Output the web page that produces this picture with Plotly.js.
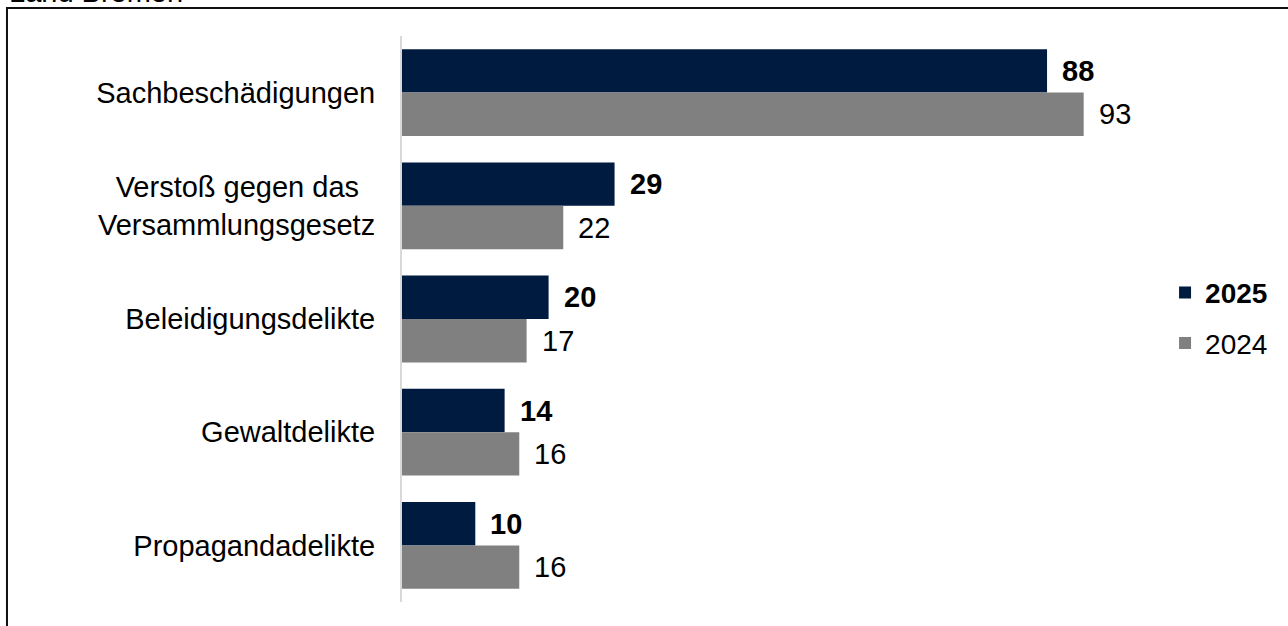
<!DOCTYPE html>
<html>
<head>
<meta charset="utf-8">
<script src="https://cdn.plot.ly/plotly-3.0.1.min.js"></script>
<style>html,body{margin:0;padding:0;background:#fff;}#chart{width:1288px;height:626px;}</style>
</head>
<body>
<div id="chart"></div>
<script>
const categories = ["Sachbeschädigungen", "Verstoß gegen das\u00a0\u00a0<br>Versammlungsgesetz", "Beleidigungsdelikte", "Gewaltdelikte", "Propagandadelikte"];
const values2025 = [88, 29, 20, 14, 10];
const values2024 = [93, 22, 17, 16, 16];
const seriesNames = ["2025", "2024"];
const colors = ["#001B40", "#808080"];
const FONT = "'Liberation Sans', Arial, sans-serif";

const traces = [
  {type: "bar", orientation: "h", name: "<b>" + seriesNames[0] + "</b>", y: categories, x: values2025,
   marker: {color: colors[0]}, legendgroup: "a", hoverinfo: "none"},
  {type: "bar", orientation: "h", name: seriesNames[1], y: categories, x: values2024,
   marker: {color: colors[1]}, legendgroup: "b", hoverinfo: "none"}
];

const annotations = [];
categories.forEach((c, i) => {
  annotations.push({x: values2025[i], y: c, xref: "x", yref: "y", text: "<b>" + values2025[i] + "</b>",
    showarrow: false, xanchor: "left", yanchor: "middle", xshift: 13, yshift: 21.7,
    font: {family: FONT, size: 29, color: "#000"}});
  annotations.push({x: values2024[i], y: c, xref: "x", yref: "y", text: String(values2024[i]),
    showarrow: false, xanchor: "left", yanchor: "middle", xshift: 13, yshift: -21.7,
    font: {family: FONT, size: 29, color: "#000"}});
});
annotations.push({x: -0.5389, y: 1.046, xref: "paper", yref: "paper", text: "Land Bremen",
  showarrow: false, xanchor: "left", yanchor: "bottom", font: {family: FONT, size: 29, color: "#000"}});

const layout = {
  width: 1288, height: 626,
  margin: {l: 402, r: 153, t: 36, b: 24},
  paper_bgcolor: "#fff", plot_bgcolor: "#fff",
  font: {family: FONT, size: 29, color: "#000"},
  barmode: "group", bargap: 0.233, bargroupgap: 0,
  xaxis: {range: [0, 100], showgrid: false, zeroline: false, showticklabels: false, ticks: "", showline: false},
  yaxis: {autorange: "reversed", showgrid: false, zeroline: false, ticks: "", showline: true,
    linecolor: "#d9d9d9", linewidth: 2, ticklabelstandoff: 19,
    tickfont: {family: FONT, size: 29, color: "#000"}},
  showlegend: true,
  legend: {x: 1.041, y: 0.502, xanchor: "left", yanchor: "middle", traceorder: "grouped", tracegroupgap: 11,
    font: {family: FONT, size: 28, color: "#000"}, bgcolor: "rgba(0,0,0,0)"},
  annotations: annotations,
  shapes: [{type: "rect", xref: "paper", yref: "paper", x0: -0.5389, x1: 1.6, y0: -0.3, y1: 1.0495,
    line: {color: "#111", width: 2}, layer: "below"}]
};

Plotly.newPlot("chart", traces, layout, {displayModeBar: false, staticPlot: true});
</script>
</body>
</html>
